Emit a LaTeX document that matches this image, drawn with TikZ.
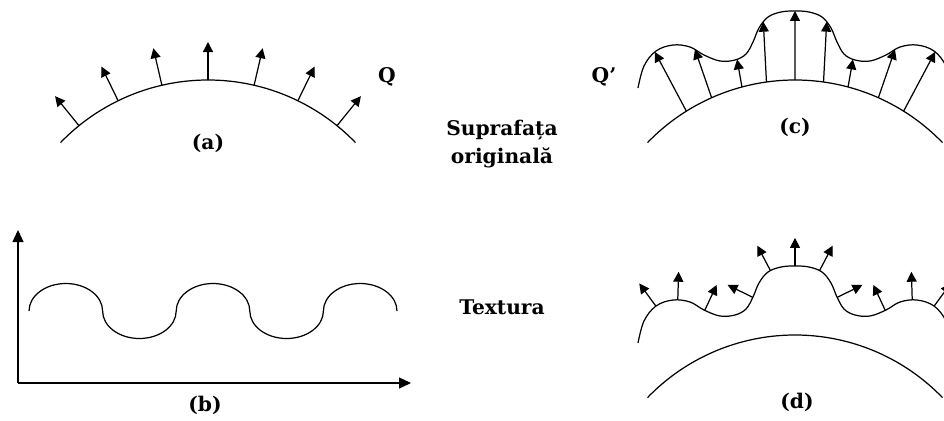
\documentclass[tikz,border=0pt]{standalone}
\usepackage{fontspec}
\setmainfont{DejaVu Serif}
\usetikzlibrary{arrows.meta,intersections,decorations.markings}

\tikzset{/pgf/decoration/nrm/.style={mark=at position #1 with {\draw[ar] (0pt,0pt) -- (0pt,16pt);}}}
\def\qline{plot[smooth,tension=0.6] coordinates {(638,88) (644,66) (656,51) (673,45) (690,47) (704,55) (720,61) (735,60) (746,54) (753,42) (759,28) (768,17) (781,12) (795,11) (809,12) (822,17) (831,28) (837,42) (844,54) (855,60) (870,61) (886,55) (900,47) (917,45) (934,51) (946,66) (952,88)}}

\begin{document}
\begin{tikzpicture}[x=0.02cm,y=-0.02cm,line width=0.7pt,
  font=\bfseries\fontsize{11.5}{16}\selectfont,
  ar/.style={-{Triangle[length=2mm,width=2mm]}},
  ax/.style={-{Triangle[length=2.4mm,width=2.2mm]}}]
\useasboundingbox (0,0) rectangle (944,420);
\clip (0,0) rectangle (944,420);
% (a)
\begin{scope}[shift={(208,285)}]
\draw (-136:205) arc[start angle=-136,end angle=-44,radius=205];
\foreach \a in {-129,-116,-103,-90,-77,-64,-51}
  \draw[ar] (\a:205) -- (\a:243);
\end{scope}
\node (la) at (208,143) {(a)};
\node (q) at (387,77) {Q};
% (b)
\coordinate (o) at (18,383);
\coordinate (yt) at (18,230);
\coordinate (xt) at (411,383);
\draw[ax] (o) -- (yt);
\draw[ax] (o) -- (xt);
\draw (29,311) \foreach \s in {1,-1,1,-1,1} {arc[start angle=180,end angle=180+180*\s,x radius=36.8,y radius=27.5]};
\node (lb) at (205,405) {(b)};
% middle
\node[align=center] (orig) at (502,144) {Suprafața\\originală};
\node (tex) at (502,307) {Textura};
% (c)
\draw[name path=qc] \qline;
\begin{scope}[shift={(795,285)}]
\draw (-136:205) arc[start angle=-136,end angle=-44,radius=205];
\foreach \b/\d in {-122/-118,-114/-109,-105/-100,-98/-93,-90/-90,-82/-87,-75/-80,-66/-71,-58/-62} {
  \path[name path=ray] (\b:205) -- ++(\d:90);
  \draw[ar,name intersections={of=ray and qc}] (\b:205) -- (intersection-1);
}
\end{scope}
\node (lc) at (795,127) {(c)};
\node (qq) at (604,77) {Q'};
% (d)
\begin{scope}[shift={(0,255)}]
\draw[postaction={decorate},decoration={markings,nrm/.list={0.1,0.155,0.225,0.362,0.44,0.5,0.56,0.638,0.775,0.845,0.9}}] \qline;
\end{scope}
\begin{scope}[shift={(795,540)}]
\draw (-136:205) arc[start angle=-136,end angle=-44,radius=205];
\end{scope}
\node (ld) at (797,402) {(d)};
\end{tikzpicture}
\end{document}
